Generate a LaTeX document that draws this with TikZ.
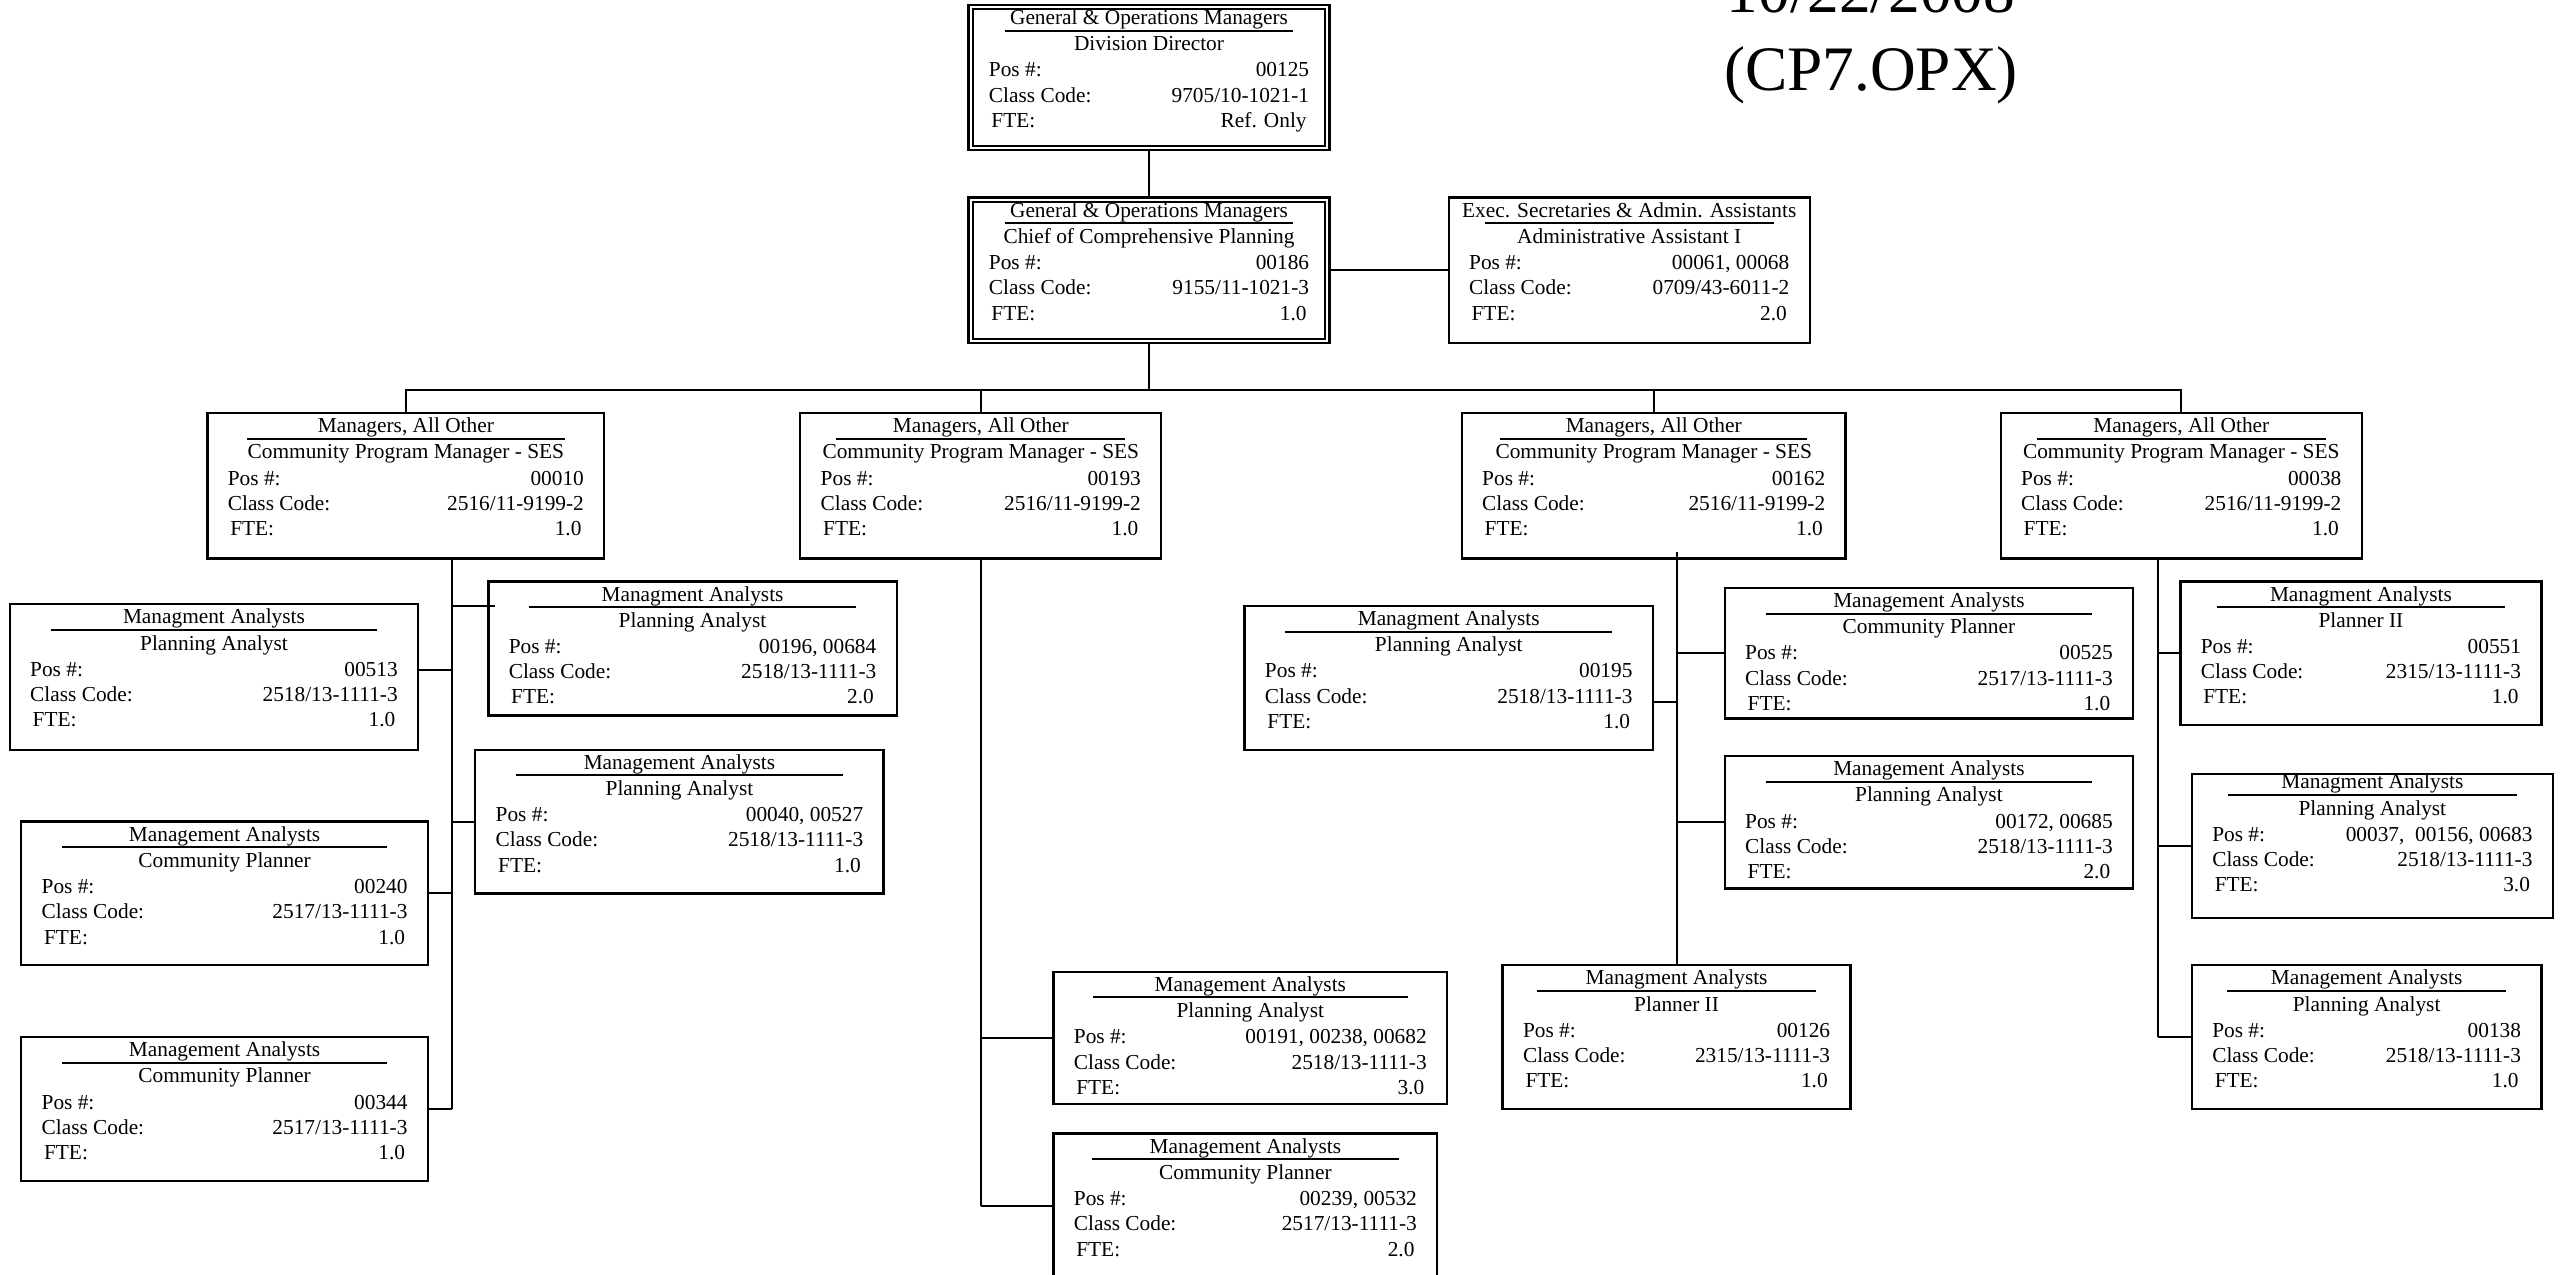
\documentclass[tikz,border=0pt]{standalone}
\usepackage{fontspec}
\setmainfont{Liberation Serif}
\usetikzlibrary{calc}

\newcommand\boxfont{\fontsize{6.4}{7.7}\selectfont}
\newcommand\titlefont{\fontsize{19}{23.6}\selectfont}

\tikzset{
  jobframe/.style={draw, rectangle, line width=0.7pt, inner sep=0pt, outer sep=0pt},
  jobtxt/.style={inner sep=0pt, outer sep=0pt, font=\boxfont},
  link/.style={line width=0.6pt},
  rulebar/.style={line width=0.6pt},
  headline/.style={inner sep=0pt, outer sep=0pt, font=\titlefont, anchor=base},
}

% \jobbox{name}{x1}{y1}{x2}{y2}{lift of the text block}
\newcommand\jobbox[6]{%
  \node[jobframe, anchor=north west,
        minimum width={(#4-#2)*0.49pt}, minimum height={(#5-#3)*0.49pt}] (#1) at (#2,#3) {};
  \def\jbname{#1}%
  \pgfmathsetmacro\jbA{12-#6}%
  \pgfmathsetmacro\jbU{15.7-#6}%
  \pgfmathsetmacro\jbB{28-#6}%
  \pgfmathsetmacro\jbC{44-#6}%
  \pgfmathsetmacro\jbD{59.5-#6}%
  \pgfmathsetmacro\jbE{75-#6}%
}

% \jobtext{occupation}{working title}{positions}{class code}{fte}
\newcommand\jobtext[5]{%
  \path (\jbname.north) ++(0,\jbA) node[jobtxt, anchor=base] (\jbname-occ) {#1};
  \draw[rulebar] ($(\jbname.north west)!0.1!(\jbname.north east)+(0,\jbU)$)
              -- ($(\jbname.north west)!0.9!(\jbname.north east)+(0,\jbU)$);
  \path (\jbname.north) ++(0,\jbB) node[jobtxt, anchor=base] (\jbname-ttl) {#2};
  \path (\jbname.north west) ++(12.5,\jbC) node[jobtxt, anchor=base west] (\jbname-posl) {Pos \#:};
  \path (\jbname.north east) ++(-12.5,\jbC) node[jobtxt, anchor=base east] (\jbname-posv) {#3};
  \path (\jbname.north west) ++(12.5,\jbD) node[jobtxt, anchor=base west] (\jbname-ccl) {Class Code:};
  \path (\jbname.north east) ++(-12.5,\jbD) node[jobtxt, anchor=base east] (\jbname-ccv) {#4};
  \path (\jbname.north west) ++(14,\jbE) node[jobtxt, anchor=base west] (\jbname-ftel) {FTE:};
  \path (\jbname.north east) ++(-14,\jbE) node[jobtxt, anchor=base east] (\jbname-ftev) {#5};
}

% second frame inside a box
\newcommand\innerframe[1]{%
  \draw[line width=0.7pt] ($(#1.north west)+(2.6,2.6)$) rectangle ($(#1.south east)+(-2.6,-2.6)$);
}

\begin{document}
\begin{tikzpicture}[x={(0.49pt,0pt)}, y={(0pt,-0.49pt)}]
\useasboundingbox (0,0) rectangle (1568,780.6);

% heading
\node[headline] (date) at (1145.5,7.8) {10/22/2008};
\node[headline] (file) at (1145.5,55.5) {(CP7.OPX)};

% top of the division
\jobbox{DD}{593}{3}{814}{92}{0}
\jobtext{General \& Operations Managers}{Division Director}{00125}{9705/10-1021-1}{Ref. Only}
\innerframe{DD}

\jobbox{CH}{593}{121}{814}{210}{0}
\jobtext{General \& Operations Managers}{Chief of Comprehensive Planning}{00186}{9155/11-1021-3}{1.0}
\innerframe{CH}

\jobbox{AA}{887}{121}{1108}{210}{0}
\jobtext{Exec. Secretaries \& Admin. Assistants}{Administrative Assistant I}{00061, 00068}{0709/43-6011-2}{2.0}

% program managers
\jobbox{M1}{127}{253}{370}{342}{0}
\jobtext{Managers, All Other}{Community Program Manager - SES}{00010}{2516/11-9199-2}{1.0}
\jobbox{M2}{490}{253}{711}{342}{0}
\jobtext{Managers, All Other}{Community Program Manager - SES}{00193}{2516/11-9199-2}{1.0}
\jobbox{M3}{895}{253}{1130}{342}{0}
\jobtext{Managers, All Other}{Community Program Manager - SES}{00162}{2516/11-9199-2}{1.0}
\jobbox{M4}{1225}{253}{1446}{342}{0}
\jobtext{Managers, All Other}{Community Program Manager - SES}{00038}{2516/11-9199-2}{1.0}

% staff under 00010
\jobbox{L1}{6}{370}{256}{459}{0}
\jobtext{Managment Analysts}{Planning Analyst}{00513}{2518/13-1111-3}{1.0}
\jobbox{L2}{299}{356}{549}{438}{0}
\jobtext{Managment Analysts}{Planning Analyst}{00196, 00684}{2518/13-1111-3}{2.0}
\jobbox{L3}{291}{459}{541}{547}{0}
\jobtext{Management Analysts}{Planning Analyst}{00040, 00527}{2518/13-1111-3}{1.0}
\jobbox{L4}{13}{503}{262}{591}{0}
\jobtext{Management Analysts}{Community Planner}{00240}{2517/13-1111-3}{1.0}
\jobbox{L5}{13}{635}{262}{723}{0}
\jobtext{Management Analysts}{Community Planner}{00344}{2517/13-1111-3}{1.0}

% staff under 00193
\jobbox{C1}{645}{595}{886}{676}{0}
\jobtext{Management Analysts}{Planning Analyst}{00191, 00238, 00682}{2518/13-1111-3}{3.0}
\jobbox{C2}{645}{694}{880}{783}{0}
\jobtext{Management Analysts}{Community Planner}{00239, 00532}{2517/13-1111-3}{2.0}

% staff under 00162
\jobbox{R1}{762}{371}{1012}{459}{0}
\jobtext{Managment Analysts}{Planning Analyst}{00195}{2518/13-1111-3}{1.0}
\jobbox{R2}{1056}{360}{1306}{440}{0}
\jobtext{Management Analysts}{Community Planner}{00525}{2517/13-1111-3}{1.0}
\jobbox{R3}{1056}{463}{1306}{544}{0}
\jobtext{Management Analysts}{Planning Analyst}{00172, 00685}{2518/13-1111-3}{2.0}
\jobbox{R4}{920}{591}{1133}{679}{0}
\jobtext{Managment Analysts}{Planner II}{00126}{2315/13-1111-3}{1.0}

% staff under 00038
\jobbox{F1}{1335}{356}{1556}{444}{0}
\jobtext{Managment Analysts}{Planner II}{00551}{2315/13-1111-3}{1.0}
\jobbox{F2}{1342}{474}{1563}{562}{3}
\jobtext{Managment Analysts}{Planning Analyst}{00037,~~00156, 00683}{2518/13-1111-3}{3.0}
\jobbox{F3}{1342}{591}{1556}{679}{0}
\jobtext{Management Analysts}{Planning Analyst}{00138}{2518/13-1111-3}{1.0}

% ---- reporting lines ----
\coordinate (bus) at (0,238.5);
\coordinate (tA) at (277,0);
\coordinate (tD) at (1321,0);

\draw[link] (DD.south) -- (CH.north);
\draw[link] (CH.east) -- (AA.west);
\draw[link] (CH.south) -- (CH.south |- bus);
\draw[link] (M1.north) -- (M1.north |- bus) -- (M4.north |- bus) -- (M4.north);
\draw[link] (M2.north) -- (M2.north |- bus);
\draw[link] (M3.north) -- (M3.north |- bus);

% under 00010
\coordinate (L1c) at ($(L1.east)+(0,-4.5)$);
\coordinate (L2c) at ($(L2.west)+(4,-26)$);
\draw[link] (tA |- M1.south) -- (tA |- L5.east);
\draw[link] (L1c) -- (L1c -| tA);
\draw[link] (L2c) -- (L2c -| tA);
\draw[link] (L3.west) -- (L3.west -| tA);
\draw[link] (L4.east) -- (L4.east -| tA);
\draw[link] (L5.east) -- (L5.east -| tA);

% under 00193
\draw[link] (M2.south) -- (M2.south |- C2.west);
\draw[link] (C1.west) -- (C1.west -| M2.south);
\draw[link] (C2.west) -- (C2.west -| M2.south);

% under 00162
\coordinate (R1c) at ($(R1.east)+(0,15)$);
\draw[link] ($(R4.north |- M3.south)+(0,-4)$) -- (R4.north);
\draw[link] (R1c) -- (R1c -| R4.north);
\draw[link] (R2.west) -- (R2.west -| R4.north);
\draw[link] (R3.west) -- (R3.west -| R4.north);

% under 00038
\draw[link] (tD |- M4.south) -- (tD |- F3.west);
\draw[link] (F1.west) -- (F1.west -| tD);
\draw[link] (F2.west) -- (F2.west -| tD);
\draw[link] (F3.west) -- (F3.west -| tD);
\end{tikzpicture}
\end{document}
